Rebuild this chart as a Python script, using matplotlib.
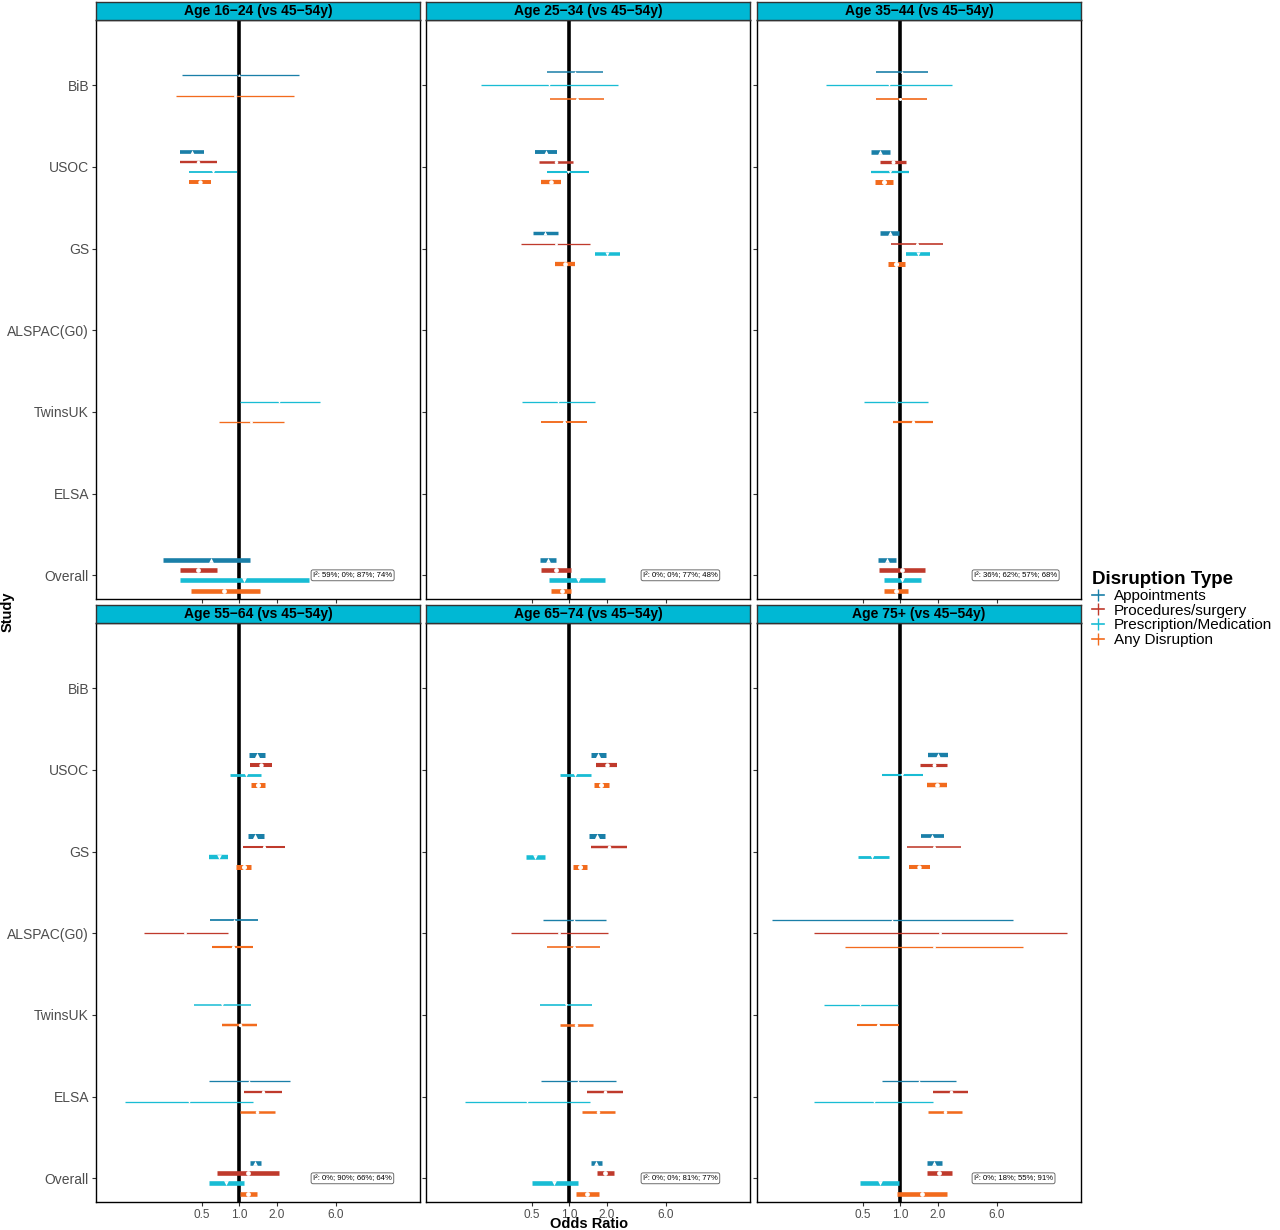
import numpy as np
import matplotlib
matplotlib.use("Agg")
import matplotlib.pyplot as plt
from matplotlib.lines import Line2D

plt.rcParams['font.family'] = ['Liberation Sans', 'DejaVu Sans']

studies = ["BiB", "USOC", "GS", "ALSPAC(G0)", "TwinsUK", "ELSA", "Overall"]
types = ["Appointments", "Procedures/surgery", "Prescription/Medication", "Any Disruption"]
colors = ["#1a7fa8", "#bf3a2c", "#19bcd4", "#f26b1d"]
markers = ["^", "o", "v", "o"]
panel_titles = ["Age 16\u221224 (vs 45\u221254y)", "Age 25\u221234 (vs 45\u221254y)", "Age 35\u221244 (vs 45\u221254y)",
                "Age 55\u221264 (vs 45\u221254y)", "Age 65\u221274 (vs 45\u221254y)", "Age 75+ (vs 45\u221254y)"]
i2_labels = ["I\u00b2: 59%; 0%; 87%; 74%", "I\u00b2: 0%; 0%; 77%; 48%", "I\u00b2: 36%; 62%; 57%; 68%",
             "I\u00b2: 0%; 90%; 66%; 64%", "I\u00b2: 0%; 0%; 81%; 77%", "I\u00b2: 0%; 18%; 55%; 91%"]
N = None
# each entry per study: (estimate, lower, upper) or None
p16_appt = [(1.0, 0.347, 3.05), (0.42, 0.336, 0.52), N, N, N, N, (0.59, 0.244, 1.23)]
p16_proc = [N, (0.47, 0.336, 0.66), N, N, N, N, (0.47, 0.336, 0.66)]
p16_pres = [N, (0.62, 0.40, 0.96), N, N, (2.1, 1.02, 4.5), N, (1.1, 0.336, 3.65)]
p16_any = [(0.93, 0.314, 2.76), (0.49, 0.40, 0.60), N, N, (1.24, 0.69, 2.29), N, (0.76, 0.41, 1.47)]

p25_appt = [(1.11, 0.66, 1.88), (0.65, 0.53, 0.80), (0.64, 0.51, 0.81), N, N, N, (0.68, 0.58, 0.78)]
p25_proc = [N, (0.78, 0.57, 1.07), (0.78, 0.41, 1.47), N, N, N, (0.78, 0.59, 1.04)]
p25_pres = [(0.69, 0.196, 2.49), (0.99, 0.66, 1.44), (2.03, 1.63, 2.57), N, (0.82, 0.42, 1.62), N, (1.17, 0.69, 1.96)]
p25_any = [(1.15, 0.70, 1.91), (0.71, 0.59, 0.86), (0.93, 0.77, 1.12), N, (0.91, 0.60, 1.40), N, (0.87, 0.71, 1.04)]

p35_appt = [(1.03, 0.64, 1.69), (0.69, 0.585, 0.83), (0.83, 0.69, 0.98), N, N, N, (0.78, 0.66, 0.93)]
p35_proc = [N, (0.87, 0.69, 1.12), (1.36, 0.85, 2.2), N, N, N, (1.04, 0.68, 1.59)]
p35_pres = [(0.81, 0.255, 2.6), (0.83, 0.585, 1.19), (1.39, 1.12, 1.74), N, (0.92, 0.51, 1.67), N, (1.04, 0.74, 1.47)]
p35_any = [(1.0, 0.64, 1.64), (0.74, 0.63, 0.87), (0.93, 0.80, 1.10), N, (1.26, 0.88, 1.83), N, (0.93, 0.74, 1.16)]

p55_appt = [N, (1.40, 1.21, 1.61), (1.34, 1.17, 1.58), (0.91, 0.585, 1.43), N, (1.20, 0.57, 2.55), (1.35, 1.22, 1.49)]
p55_proc = [N, (1.49, 1.23, 1.83), (1.58, 1.07, 2.34), (0.37, 0.173, 0.82), N, (1.56, 1.10, 2.23), (1.17, 0.67, 2.08)]
p55_pres = [N, (1.13, 0.85, 1.51), (0.69, 0.57, 0.82), N, (0.73, 0.435, 1.24), (0.40, 0.122, 1.30), (0.79, 0.57, 1.10)]
p55_any = [N, (1.41, 1.24, 1.63), (1.09, 0.95, 1.25), (0.89, 0.61, 1.30), (1.01, 0.73, 1.39), (1.39, 1.02, 1.93), (1.17, 1.02, 1.39)]

p65_appt = [N, (1.72, 1.49, 1.98), (1.67, 1.45, 1.93), (1.10, 0.62, 1.97), N, (1.19, 0.60, 2.38), (1.66, 1.50, 1.83)]
p65_proc = [N, (2.0, 1.66, 2.44), (2.09, 1.51, 2.9), (0.83, 0.34, 2.07), N, (1.95, 1.40, 2.70), (1.96, 1.69, 2.29)]
p65_pres = [N, (1.12, 0.84, 1.49), (0.53, 0.45, 0.64), N, (0.94, 0.58, 1.52), (0.46, 0.145, 1.47), (0.76, 0.50, 1.17)]
p65_any = [N, (1.81, 1.58, 2.08), (1.23, 1.08, 1.40), (1.09, 0.67, 1.77), (1.14, 0.84, 1.56), (1.70, 1.26, 2.33), (1.40, 1.14, 1.74)]

p75_appt = [N, (2.0, 1.67, 2.41), (1.80, 1.46, 2.24), (0.86, 0.093, 8.07), N, (1.41, 0.72, 2.81), (1.88, 1.66, 2.17)]
p75_proc = [N, (1.86, 1.45, 2.40), (1.86, 1.13, 3.07), (2.1, 0.204, 21.8), N, (2.55, 1.83, 3.54), (2.07, 1.66, 2.6)]
p75_pres = [N, (1.03, 0.71, 1.54), (0.60, 0.46, 0.81), N, (0.48, 0.244, 0.96), (0.62, 0.204, 1.85), (0.69, 0.48, 0.98)]
p75_any = [N, (1.98, 1.66, 2.38), (1.42, 1.17, 1.74), (1.88, 0.36, 9.8), (0.67, 0.455, 0.98), (2.3, 1.69, 3.15), (1.49, 0.94, 2.40)]

panels = [
    [p16_appt, p16_proc, p16_pres, p16_any],
    [p25_appt, p25_proc, p25_pres, p25_any],
    [p35_appt, p35_proc, p35_pres, p35_any],
    [p55_appt, p55_proc, p55_pres, p55_any],
    [p65_appt, p65_proc, p65_pres, p65_any],
    [p75_appt, p75_proc, p75_pres, p75_any],
]
xticks = [0.5, 1.0, 2.0, 6.0]
xticklabels = ["0.5", "1.0", "2.0", "6.0"]

W, H = 1280, 1230
fig = plt.figure(figsize=(12.8, 12.3), dpi=100)
col_x = [96, 426, 757]
pw = 324
row_y = [20, 623]
ph = 579
strip_h = 18
PX = 0.72  # points per pixel

for k in range(6):
    r, c = divmod(k, 3)
    x0, y0 = col_x[c], row_y[r]
    ax = fig.add_axes([x0 / W, 1 - (y0 + ph) / H, pw / W, ph / H])
    ax.set_xscale('log', base=2)
    ax.set_xlim(0.071, 28.4)
    ax.set_ylim(0.71, 7.8)
    ax.axvline(1.0, color='black', lw=2.6, zorder=1)
    for si, st in enumerate(studies):
        yc = 7 - si
        present = [t for t in range(4) if panels[k][t][si] is not None]
        n = len(present)
        for j, t in enumerate(present):
            est, lo, hi = panels[k][t][si]
            y = yc + 0.5 / n * ((n - 1) / 2 - j)
            if st == "Overall":
                lwpx = 4.6
            else:
                lwpx = float(np.clip(1.6 / np.log(hi / lo), 1.3, 5.0))
            ax.plot([lo, hi], [y, y], color=colors[t], lw=lwpx * PX, solid_capstyle='butt', zorder=2)
            ms = 2.0 + 0.6 * lwpx
            ax.plot([est], [y], marker=markers[t], color='white', mec='none', ms=ms * PX, zorder=3, ls='none')
    ax.text(3.93, 1.0, i2_labels[k], fontsize=5.6, va='center', ha='left',
            bbox=dict(boxstyle='round,pad=0.25', fc='white', ec='#555555', lw=0.6))
    ax.set_xticks(xticks)
    ax.minorticks_off()
    ax.set_yticks([7 - i for i in range(7)])
    if r == 1:
        ax.set_xticklabels(xticklabels, fontsize=8.5, color='#4d4d4d')
    else:
        ax.set_xticklabels([])
    if c == 0:
        ax.set_yticklabels(studies, fontsize=10, color='#4d4d4d')
    else:
        ax.set_yticklabels([])
    ax.tick_params(length=3, color='#333333', pad=2)
    for s in ax.spines.values():
        s.set_color('black'); s.set_linewidth(1.0)
    sax = fig.add_axes([x0 / W, 1 - (y0) / H, pw / W, strip_h / H])
    sax.set_facecolor('#00b8d4')
    sax.set_xticks([]); sax.set_yticks([])
    for s in sax.spines.values():
        s.set_color('#333333'); s.set_linewidth(1.0)
    sax.text(0.5, 0.5, panel_titles[k], transform=sax.transAxes, ha='center', va='center',
             fontsize=10, fontweight='bold', color='black')

fig.text(589 / W, 1 - 1224 / H, "Odds Ratio", ha='center', va='center', fontsize=10.5, fontweight='bold')
fig.text(8 / W, 1 - 612 / H, "Study", ha='center', va='center', fontsize=10.5, fontweight='bold', rotation=90)

handles = [Line2D([0], [0], color=colors[t], lw=1.2, marker='|', ms=8) for t in range(4)]
leg = fig.legend(handles, types, loc='upper left', bbox_to_anchor=(1086 / W, 1 - 565 / H),
                 frameon=False, fontsize=11, title="Disruption Type", handlelength=0.8,
                 handletextpad=0.6, labelspacing=0.05, borderaxespad=0)
leg.get_title().set_fontsize(13.5)
leg.get_title().set_fontweight('bold')
leg._legend_box.align = 'left'

fig.savefig("out.png", dpi=100, facecolor='white')
